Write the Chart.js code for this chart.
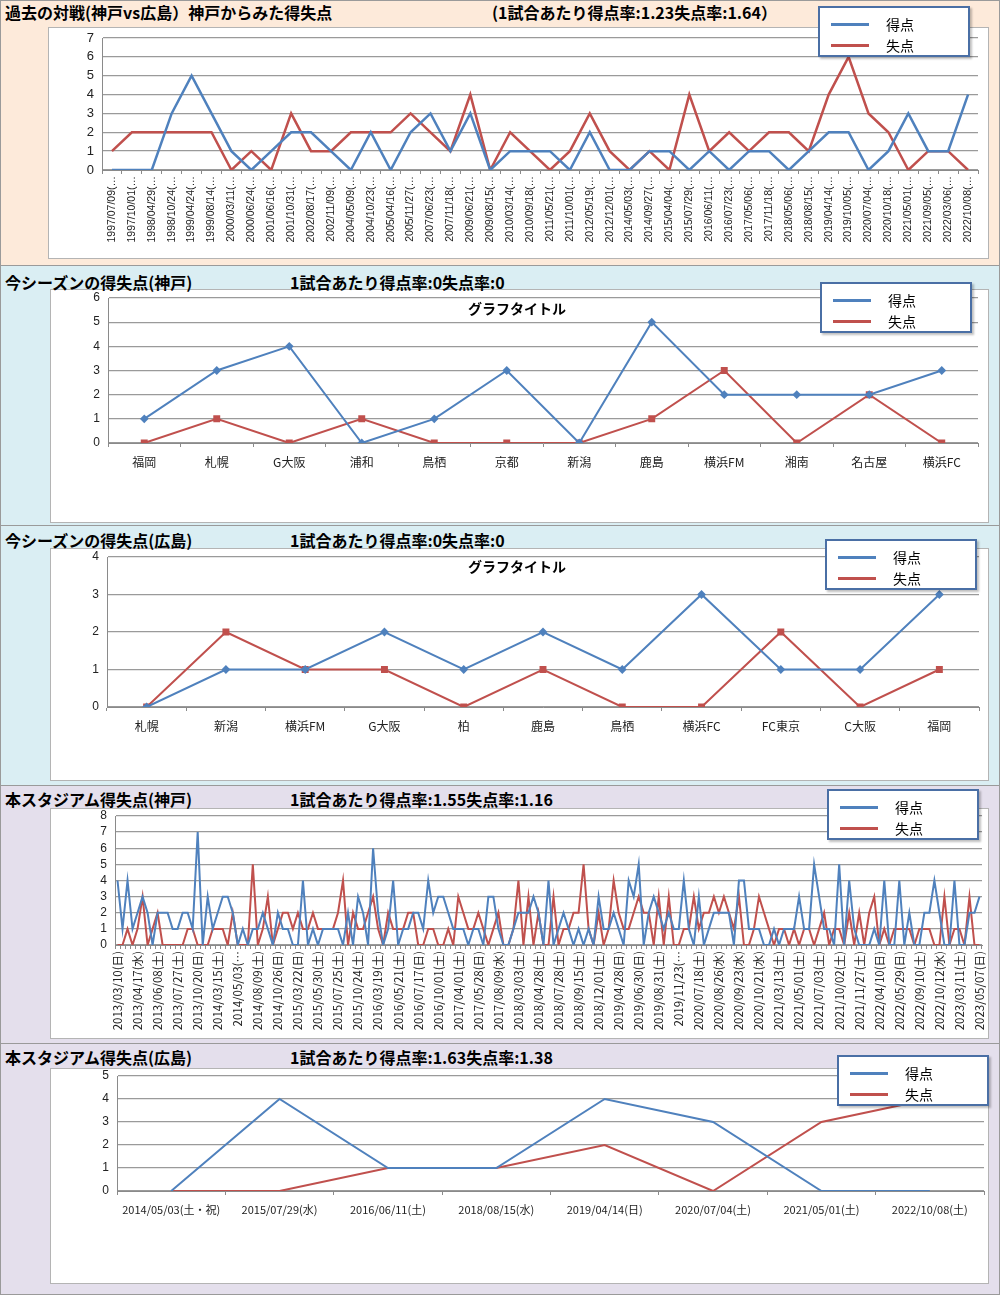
<!DOCTYPE html>
<html lang="ja">
<head>
<meta charset="utf-8">
<script src="https://cdn.jsdelivr.net/npm/chart.js"></script>
<style>
  body { margin: 0; background: #fff; font-family: "Noto Sans CJK JP", sans-serif; }
  #page { position: relative; width: 1000px; height: 1295px; overflow: hidden; }
  .sec { position: absolute; left: 0; width: 998px; border: 1px solid #9a9a9a; }
  .box { position: absolute; background: #fff; border: 1px solid #b4b4b4; box-sizing: border-box; }
  .ttl { position: absolute; font-weight: bold; font-size: 16px; line-height: 16px; white-space: nowrap; color: #000; }
  .gt { position: absolute; font-weight: bold; font-size: 14px; line-height: 14px; white-space: nowrap; transform: translateX(-50%); }
  .cw { position: absolute; left: 0; width: 1000px; }
  .lg { position: absolute; width: 148px; height: 47px; background: #fff; border: 2px solid #4a6fa5; box-shadow: 2px 2px 2px rgba(0,0,0,0.25); }
  .lg .ln { position: absolute; left: 11px; width: 38px; height: 3px; }
  .lg .tx { position: absolute; left: 66px; font-size: 14px; line-height: 14px; }
</style>
</head>
<body>
<div id="page">
  <div class="sec" style="top:0;height:264px;background:#fdeada"></div>
  <div class="sec" style="top:265px;height:259px;background:#daeef3"></div>
  <div class="sec" style="top:525px;height:259px;background:#daeef3"></div>
  <div class="sec" style="top:785px;height:257px;background:#e4dfec"></div>
  <div class="sec" style="top:1043px;height:250px;background:#e4dfec"></div>

  <div class="box" style="left:48px;top:27px;width:941px;height:232px"></div>
  <div class="box" style="left:50px;top:289px;width:939px;height:234px"></div>
  <div class="box" style="left:50px;top:548px;width:939px;height:233px"></div>
  <div class="box" style="left:50px;top:808px;width:939px;height:231px"></div>
  <div class="box" style="left:50px;top:1068px;width:939px;height:216px"></div>

  <div class="ttl" style="left:5px;top:4px">過去の対戦(神戸vs広島）神戸からみた得失点</div>
  <div class="ttl" style="left:492px;top:4px">(1試合あたり得点率:1.23失点率:1.64）</div>
  <div class="ttl" style="left:5px;top:274px">今シーズンの得失点(神戸)</div>
  <div class="ttl" style="left:290px;top:274px">1試合あたり得点率:0失点率:0</div>
  <div class="ttl" style="left:5px;top:532px">今シーズンの得失点(広島)</div>
  <div class="ttl" style="left:290px;top:532px">1試合あたり得点率:0失点率:0</div>
  <div class="ttl" style="left:5px;top:791px">本スタジアム得失点(神戸)</div>
  <div class="ttl" style="left:290px;top:791px">1試合あたり得点率:1.55失点率:1.16</div>
  <div class="ttl" style="left:5px;top:1049px">本スタジアム得失点(広島)</div>
  <div class="ttl" style="left:290px;top:1049px">1試合あたり得点率:1.63失点率:1.38</div>

  <div class="cw" style="top:0;height:265px"><canvas id="c1"></canvas></div>
  <div class="cw" style="top:265px;height:260px"><canvas id="c2"></canvas></div>
  <div class="cw" style="top:525px;height:260px"><canvas id="c3"></canvas></div>
  <div class="cw" style="top:785px;height:258px"><canvas id="c4"></canvas></div>
  <div class="cw" style="top:1043px;height:252px"><canvas id="c5"></canvas></div>

  <div class="gt" style="left:517px;top:301px">グラフタイトル</div>
  <div class="gt" style="left:517px;top:559px">グラフタイトル</div>

  <div class="lg" style="left:818px;top:6px"><div class="ln" style="top:15px;background:#4f81bd"></div><div class="tx" style="top:9px">得点</div><div class="ln" style="top:36px;background:#c0504d"></div><div class="tx" style="top:30px">失点</div></div>
  <div class="lg" style="left:820px;top:282px"><div class="ln" style="top:15px;background:#4f81bd"></div><div class="tx" style="top:9px">得点</div><div class="ln" style="top:36px;background:#c0504d"></div><div class="tx" style="top:30px">失点</div></div>
  <div class="lg" style="left:825px;top:539px"><div class="ln" style="top:15px;background:#4f81bd"></div><div class="tx" style="top:9px">得点</div><div class="ln" style="top:36px;background:#c0504d"></div><div class="tx" style="top:30px">失点</div></div>
  <div class="lg" style="left:827px;top:789px"><div class="ln" style="top:15px;background:#4f81bd"></div><div class="tx" style="top:9px">得点</div><div class="ln" style="top:36px;background:#c0504d"></div><div class="tx" style="top:30px">失点</div></div>
  <div class="lg" style="left:837px;top:1055px"><div class="ln" style="top:15px;background:#4f81bd"></div><div class="tx" style="top:9px">得点</div><div class="ln" style="top:36px;background:#c0504d"></div><div class="tx" style="top:30px">失点</div></div>
</div>

<script>
// 過去の対戦(神戸vs広島)
const h2hDates = [
  '1997/07/09(…', '1997/10/01(…', '1998/04/29(…', '1998/10/24(…', '1999/04/24(…', '1999/08/14(…',
  '2000/03/11(…', '2000/06/24(…', '2001/06/16(…', '2001/10/31(…', '2002/08/17(…', '2002/11/09(…',
  '2004/05/09(…', '2004/10/23(…', '2005/04/16(…', '2005/11/27(…', '2007/06/23(…', '2007/11/18(…',
  '2009/06/21(…', '2009/08/15(…', '2010/03/14(…', '2010/09/18(…', '2011/05/21(…', '2011/10/01(…',
  '2012/05/19(…', '2012/12/01(…', '2014/05/03(…', '2014/09/27(…', '2015/04/04(…', '2015/07/29(…',
  '2016/06/11(…', '2016/07/23(…', '2017/05/06(…', '2017/11/18(…', '2018/05/06(…', '2018/08/15(…',
  '2019/04/14(…', '2019/10/05(…', '2020/07/04(…', '2020/10/18(…', '2021/05/01(…', '2021/09/05(…',
  '2022/03/06(…', '2022/10/08(…'
];
const h2hFor = [0,0,0,3,5,3,1,0,1,2,2,1,0,2,0,2,3,1,3,0,1,1,1,0,2,0,0,1,1,0,1,0,1,1,0,1,2,2,0,1,3,1,1,4];
const h2hAgainst = [1,2,2,2,2,2,0,1,0,3,1,1,2,2,2,3,2,1,4,0,2,1,0,1,3,1,0,1,0,4,1,2,1,2,2,1,4,6,3,2,0,1,1,0];

// 今シーズン(神戸)
const kobeTeams = ['福岡','札幌','G大阪','浦和','鳥栖','京都','新潟','鹿島','横浜FM','湘南','名古屋','横浜FC'];
const kobeFor = [1,3,4,0,1,3,0,5,2,2,2,3];
const kobeAgainst = [0,1,0,1,0,0,0,1,3,0,2,0];

// 今シーズン(広島)
const hiroTeams = ['札幌','新潟','横浜FM','G大阪','柏','鹿島','鳥栖','横浜FC','FC東京','C大阪','福岡'];
const hiroFor = [0,1,1,2,1,2,1,3,1,1,3];
const hiroAgainst = [0,2,1,1,0,1,0,0,2,0,1];

// 本スタジアム(神戸) - ラベルは4試合ごと
const homeKobeTicks = [
  '2013/03/10(日)','2013/04/17(水)','2013/06/08(土)','2013/07/27(土)','2013/10/20(日)','2014/03/15(土)',
  '2014/05/03(…','2014/08/09(土)','2014/10/26(日)','2015/03/22(日)','2015/05/30(土)','2015/07/25(土)',
  '2015/10/24(土)','2016/03/19(土)','2016/05/21(土)','2016/07/17(日)','2016/10/01(土)','2017/04/01(土)',
  '2017/05/28(日)','2017/08/09(水)','2018/03/03(土)','2018/04/28(土)','2018/07/28(土)','2018/09/15(土)',
  '2018/12/01(土)','2019/04/28(日)','2019/06/30(日)','2019/08/31(土)','2019/11/23(…','2020/07/18(土)',
  '2020/08/26(水)','2020/09/23(水)','2020/10/21(水)','2021/03/13(土)','2021/05/01(土)','2021/07/03(土)',
  '2021/10/02(土)','2021/11/27(土)','2022/04/10(日)','2022/05/29(日)','2022/09/10(土)','2022/10/12(水)',
  '2023/03/11(土)','2023/05/07(日)'
];
const homeKobeFor = [
  4,1,4,1,2,3,2,0,2,2,2,1,1,2,2,1,7,0,3,1,2,3,3,2,0,1,0,1,1,2,1,0,2,1,1,0,0,4,0,1,0,1,1,
  1,1,0,2,0,3,2,0,6,2,0,1,4,0,1,1,2,2,1,4,2,3,3,2,1,1,1,0,1,1,0,3,3,1,0,0,1,2,2,2,3,2,0,
  4,0,1,2,1,0,1,0,1,0,3,1,1,2,1,0,4,3,5,0,2,3,2,1,2,1,1,4,1,0,3,0,1,2,2,2,2,0,4,4,1,1,
  1,0,0,1,0,1,1,1,3,1,1,5,3,1,1,0,5,0,4,1,0,0,0,1,0,4,0,0,4,0,2,0,0,2,2,4,2,0,0,4,0,0,2,2,3
];
const homeKobeAgainst = [
  0,0,1,0,1,3,0,1,2,0,0,0,0,0,1,1,0,0,0,1,1,1,0,2,0,0,0,5,0,1,3,0,1,2,2,1,2,1,1,2,1,1,1,
  1,2,4,0,2,1,1,2,3,1,0,2,1,1,1,2,2,0,0,1,1,0,0,1,0,3,2,1,1,2,1,0,1,2,0,0,1,4,0,3,0,2,
  0,0,3,0,1,1,2,2,5,1,0,2,0,1,4,2,1,1,2,3,2,2,0,3,0,3,0,0,1,1,3,1,2,2,3,2,3,2,1,3,0,0,1,
  3,2,1,0,1,1,0,1,0,1,1,0,1,2,0,1,1,0,2,0,2,0,2,3,0,1,0,1,1,1,1,0,1,1,1,0,0,3,0,1,1,0,3,0,0
];

// 本スタジアム(広島)
const homeHiroDates = ['2014/05/03(土・祝)','2015/07/29(水)','2016/06/11(土)','2018/08/15(水)','2019/04/14(日)','2020/07/04(土)','2021/05/01(土)','2022/10/08(土)'];
const homeHiroFor = [0,4,1,1,4,3,0,0];
const homeHiroAgainst = [0,0,1,1,2,0,3,4];

const BLUE = '#4f81bd';
const RED = '#c0504d';
const JP = '"Noto Sans CJK JP", sans-serif';
const LAT = '"Liberation Sans", sans-serif';

// 共通の折れ線グラフ (plot = 描画領域の位置)
function buildChart(id, o) {
    const yW = 30;
    return new Chart(document.getElementById(id), {
        type: 'line',
        data: {
            labels: o.labels,
            datasets: [
                { data: o.goalsFor, borderColor: BLUE, backgroundColor: BLUE, borderWidth: o.lw,
                  pointStyle: 'rectRot', pointRadius: o.markers ? 3 : 0, fill: false },
                { data: o.goalsAgainst, borderColor: RED, backgroundColor: RED, borderWidth: o.lw,
                  pointStyle: 'rect', pointRadius: o.markers ? 3.5 : 0, fill: false }
            ]
        },
        options: {
            responsive: true,
            maintainAspectRatio: false,
            animation: false,
            elements: { line: { tension: 0 } },
            layout: { padding: { left: o.plot.l - yW, right: 1000 - o.plot.r, top: o.plot.t, bottom: o.secH - o.plot.b - o.xH } },
            plugins: { legend: { display: false }, tooltip: { enabled: false } },
            scales: {
                x: {
                    offset: true,
                    grid: { drawOnChartArea: false, offset: true, tickLength: 4, color: '#8a8a8a' },
                    border: { color: '#8a8a8a' },
                    ticks: {
                        autoSkip: false,
                        maxRotation: o.rot, minRotation: o.rot,
                        padding: o.tickPad,
                        color: '#222',
                        font: { size: o.xFont, family: o.xFamily },
                        callback: o.tickCb || function(v) { return this.getLabelForValue(v); }
                    },
                    afterFit: s => { s.height = o.xH; }
                },
                y: {
                    min: 0, max: o.yMax,
                    grid: { color: '#9a9a9a', lineWidth: 1.3, drawTicks: false },
                    border: { color: '#8a8a8a' },
                    ticks: { stepSize: 1, autoSkip: false, padding: 8, color: '#222', font: { size: o.yFont || 12, family: LAT } },
                    afterFit: s => { s.width = yW; }
                }
            }
        }
    });
}

buildChart('c1', {
    labels: h2hDates, goalsFor: h2hFor, goalsAgainst: h2hAgainst,
    lw: 2.5, markers: false, yMax: 7, yFont: 13, rot: 90, xFont: 10.5, xFamily: LAT, tickPad: 2,
    plot: { l: 102, r: 978, t: 38, b: 170 }, secH: 265, xH: 80
});

buildChart('c2', {
    labels: kobeTeams, goalsFor: kobeFor, goalsAgainst: kobeAgainst,
    lw: 2, markers: true, yMax: 6, rot: 0, xFont: 12, xFamily: JP, tickPad: 8,
    plot: { l: 108, r: 978, t: 33, b: 178 }, secH: 260, xH: 30
});

buildChart('c3', {
    labels: hiroTeams, goalsFor: hiroFor, goalsAgainst: hiroAgainst,
    lw: 2, markers: true, yMax: 4, rot: 0, xFont: 12, xFamily: JP, tickPad: 8,
    plot: { l: 107, r: 979, t: 32, b: 182 }, secH: 260, xH: 30
});

buildChart('c4', {
    labels: homeKobeFor.map((_, i) => String(i)), goalsFor: homeKobeFor, goalsAgainst: homeKobeAgainst,
    lw: 2, markers: false, yMax: 8, rot: 90, xFont: 11.5, xFamily: JP, tickPad: 2,
    tickCb: (v, i) => (i % 4 === 0 ? homeKobeTicks[i / 4] : ''),
    plot: { l: 115, r: 982, t: 31, b: 160 }, secH: 258, xH: 85
});

buildChart('c5', {
    labels: homeHiroDates, goalsFor: homeHiroFor, goalsAgainst: homeHiroAgainst,
    lw: 2, markers: false, yMax: 5, rot: 0, xFont: 11, xFamily: JP, tickPad: 8,
    plot: { l: 117, r: 984, t: 33, b: 148 }, secH: 252, xH: 30
});
</script>
</body>
</html>
